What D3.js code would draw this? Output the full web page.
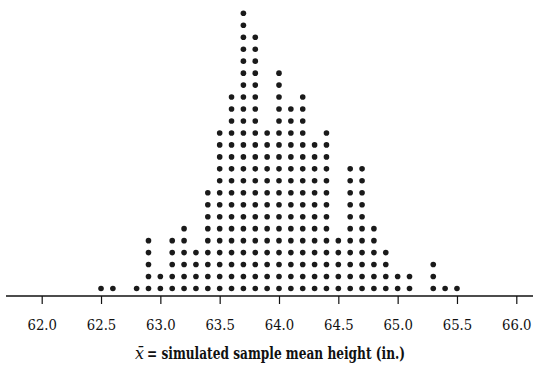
<!DOCTYPE html>
<html>
<head>
<meta charset="utf-8">
<script src="https://cdn.jsdelivr.net/npm/d3@7"></script>
<style>
  body { margin: 0; background: #fff; }
  svg { display: block; }
  svg text { font-family: 'DejaVu Serif', 'Liberation Serif', serif; }
</style>
</head>
<body>
<div id="chart"></div>
<script>
// sample mean heights (bins of 0.1 in.) and how many of the 250 simulated samples fell in each
const meanHeights = [62.5, 62.6, 62.7, 62.8, 62.9, 63.0, 63.1, 63.2, 63.3, 63.4,
                     63.5, 63.6, 63.7, 63.8, 63.9, 64.0, 64.1, 64.2, 64.3, 64.4,
                     64.5, 64.6, 64.7, 64.8, 64.9, 65.0, 65.1, 65.2, 65.3, 65.4, 65.5];
const dotCounts = [1, 1, 0, 1, 5, 2, 5, 6, 4, 9,
                   14, 17, 24, 22, 14, 19, 16, 17, 13, 14,
                   5, 11, 11, 6, 4, 2, 2, 0, 3, 1, 1];
const tickValues = [62.0, 62.5, 63.0, 63.5, 64.0, 64.5, 65.0, 65.5, 66.0];
const axisSymbol = "x\u0304";
const axisTitle = "= simulated sample mean height (in.)";

const width = 533, height = 368;
const axisY = 296;

const svg = d3.select('#chart')
  .append('svg')
    .attr('width', width)
    .attr('height', height);

const x = d3.scaleLinear()
  .domain([62, 66])
  .range([41.7, 516.3]);

// stack index -> vertical position
const y = d3.scaleLinear()
  .domain([1, 24])
  .range([288.5, 13.3]);

// one record per dot
let dots = [];
meanHeights.forEach((h, i) => {
  for (let k = 1; k <= dotCounts[i]; k++) dots.push({h: h, k: k});
});

svg.append('g')
  .selectAll('circle')
  .data(dots)
  .enter()
  .append('circle')
    .attr('cx', d => x(d.h))
    .attr('cy', d => y(d.k))
    .attr('r', 2.8)
    .attr('fill', '#1a1a1a');

// axis line runs almost the full width
svg.append('line')
  .attr('x1', 6).attr('x2', width)
  .attr('y1', axisY).attr('y2', axisY)
  .attr('stroke', '#111')
  .attr('stroke-width', 1.3);

const axis = svg.append('g')
  .attr('transform', 'translate(0,' + axisY + ')')
  .call(d3.axisBottom(x)
    .tickValues(tickValues)
    .tickFormat(d3.format('.1f'))
    .tickSize(8)
    .tickPadding(15));

axis.attr('font-family', null);
axis.select('.domain').remove();
axis.selectAll('line').attr('stroke', '#111').attr('stroke-width', 1.2);
// squeeze the wide serif so it looks like the narrow book face
axis.selectAll('text')
  .attr('fill', '#111')
  .attr('textLength', 29.5)
  .attr('lengthAdjust', 'spacingAndGlyphs')
  .style('font-size', '15px');

// x-bar symbol, then the bold title text
svg.append('text')
  .attr('x', 135)
  .attr('y', 359)
  .style('font-size', '16px')
  .style('font-style', 'italic')
  .attr('fill', '#111')
  .text(axisSymbol);

svg.append('text')
  .attr('x', 147)
  .attr('y', 359)
  .attr('textLength', 258)
  .attr('lengthAdjust', 'spacingAndGlyphs')
  .style('font-size', '16px')
  .style('font-weight', 'bold')
  .attr('fill', '#111')
  .text(axisTitle);
</script>
</body>
</html>
